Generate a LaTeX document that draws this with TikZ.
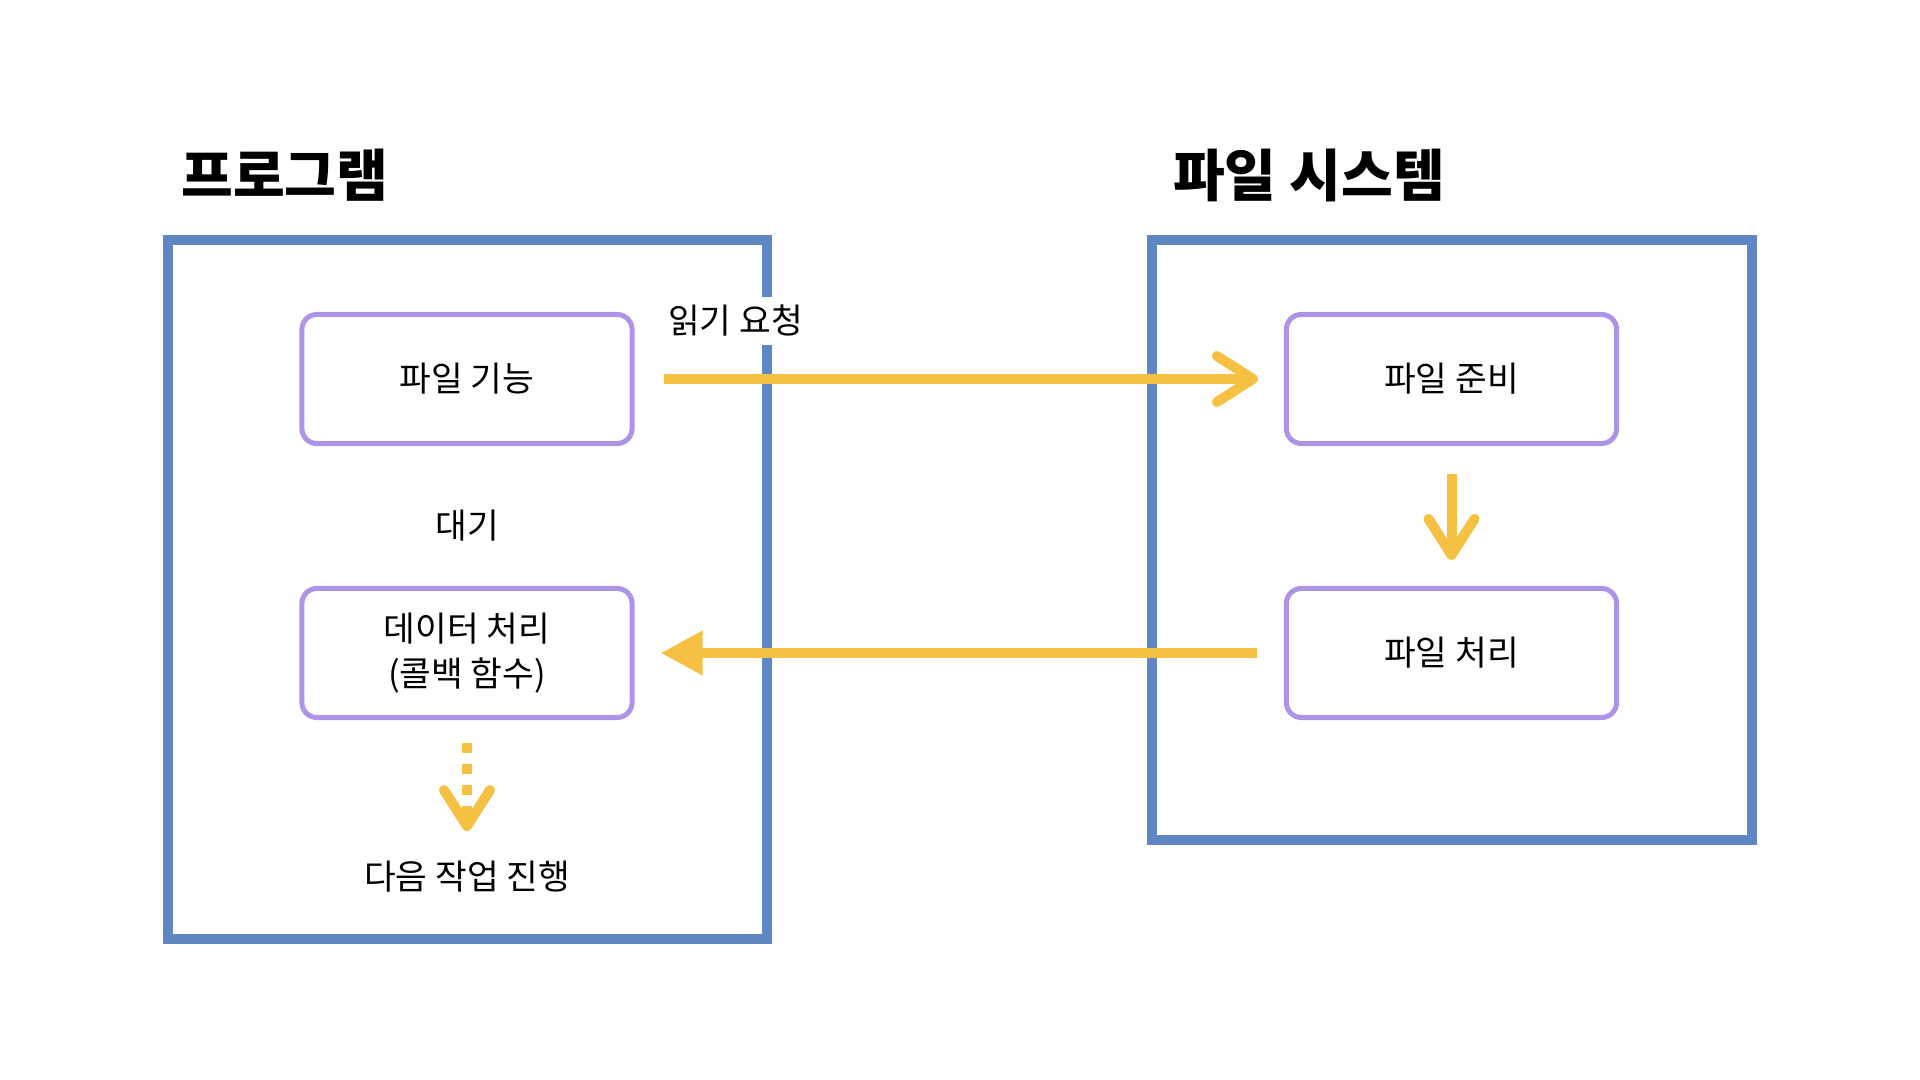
\documentclass[tikz,border=0pt]{standalone}
\usepackage{fontspec}
\setmainfont{Noto Sans CJK KR}
\usetikzlibrary{arrows.meta}
\definecolor{frameblue}{HTML}{5F87C3}
\definecolor{flowyellow}{HTML}{F6C142}
\definecolor{boxpurple}{HTML}{AE94E6}
\tikzset{
  frame/.style={draw=frameblue, line width=0.1cm},
  procbox/.style={draw=boxpurple, line width=0.05cm, rounded corners=0.15cm,
    minimum width=3.3cm, minimum height=1.29cm, align=center,
    font=\fontsize{9.8pt}{12.8pt}\selectfont},
  plaintext/.style={font=\fontsize{9.8pt}{12pt}\selectfont, inner sep=0pt},
  titletext/.style={font=\fontsize{16pt}{19pt}\selectfont\bfseries, inner sep=0pt},
  flow/.style={draw=flowyellow, line width=0.1cm},
  barb/.style={-{Straight Barb[length=0.36cm, width=0.46cm, round]}},
  tri/.style={-{Triangle[length=0.42cm, width=0.42cm]}},
}
\begin{document}
\begin{tikzpicture}[x=0.01cm, y=-0.01cm]
\useasboundingbox (0,0) rectangle (1920,1080);
\fill[white] (0,0) rectangle (1920,1080);

% frames
\draw[frame] (168,240) rectangle (767,939);
\draw[frame] (1152,240) rectangle (1752,840);

% titles
\node[titletext] (tprog) at (285,175) {프로그램};
\node[titletext] (tfs) at (1309,175) {파일 시스템};

% boxes
\node[procbox] (fk) at (467,379) {파일 기능};
\node[procbox] (dp) at (467,653) {데이터 처리\\(콜백 함수)};
\node[procbox] (fj) at (1451.5,379) {파일 준비};
\node[procbox] (fp) at (1451.5,653) {파일 처리};

% texts
\node[plaintext] (wait) at (467,525.5) {대기};
\node[plaintext] (next) at (467,876.5) {다음 작업 진행};

% connectors
\draw[flow, barb] ([xshift=0.295cm]fk.east) -- ([xshift=-0.26cm]fj.west);
\draw[flow, barb] ([yshift=-0.275cm]fj.south) -- ([yshift=0.26cm]fp.north);
\draw[flow, tri] ([xshift=-0.265cm]fp.west) -- ([xshift=0.26cm]dp.east);
\draw[flow, barb, dash pattern=on 0.1cm off 0.11cm] ([yshift=-0.23cm]dp.south) -- ([yshift=-1.11cm]dp.south);

% label
\node[plaintext, fill=white, inner sep=0.085cm] (req) at (735.5,321) {읽기 요청};
\end{tikzpicture}
\end{document}
